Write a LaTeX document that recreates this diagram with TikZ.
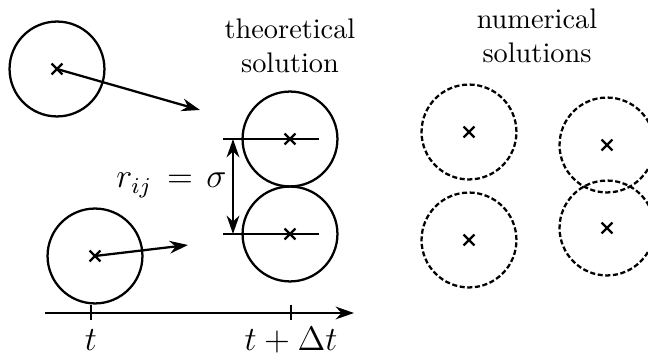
\documentclass[tikz,border=0pt]{standalone}
\usetikzlibrary{arrows.meta, shapes.misc}
\tikzset{
  ball/.style={draw, thick, circle, minimum size=33.5pt, inner sep=0pt},
  ghost/.style={ball, dash pattern=on 1.8pt off 0.9pt},
  xmark/.style={draw, thick, cross out, minimum size=3pt, inner sep=0pt},
  vel/.style={-{Stealth[length=6.5pt, width=4.5pt]}, thick},
  dist/.style={{Stealth[length=6.5pt, width=4.5pt]}-{Stealth[length=6.5pt, width=4.5pt]}, thick},
  caption/.style={align=center, anchor=north, inner sep=0pt},
  tlabel/.style={anchor=base, inner sep=0pt, font=\large},
}

\begin{document}
\begin{tikzpicture}[x=0.353pt, y=-0.353pt]
  \useasboundingbox (0,0) rectangle (648,359);

  % particles at time t
  \node (p1) [ball] at (57,69) {};
  \node (p2) [ball] at (95,256) {};
  \node (c1) [xmark] at (p1) {};
  \node (c2) [xmark] at (p2) {};
  \coordinate (v1) at (200,110);
  \coordinate (v2) at (188,245);
  \draw[vel] (p1.center) -- (v1);
  \draw[vel] (p2.center) -- (v2);

  % theoretical solution (contact)
  \node (theo) [caption] at (290,18) {theoretical\\solution};
  \node (q1) [ball] at (290,139) {};
  \node (q2) [ball] at (290,234) {};
  \node (d1) [xmark] at (q1) {};
  \node (d2) [xmark] at (q2) {};
  \coordinate (l1) at (223,139);
  \coordinate (r1) at (319,139);
  \coordinate (l2) at (223,234);
  \coordinate (r2) at (319,234);
  \coordinate (s1) at (233,139);
  \coordinate (s2) at (233,234);
  \draw[thick] (l1) -- (r1);
  \draw[thick] (l2) -- (r2);
  \draw[dist] (s1) -- (s2);
  \node (rlabel) [anchor=base east, inner sep=0pt, font=\large] at (227,188) {$r_{ij}\mkern3mu=\mkern2mu\sigma$};

  % numerical solutions
  \node (num) [caption] at (537,8) {numerical\\solutions};
  \node (g1) [ghost] at (469,132) {};
  \node (g2) [ghost] at (469,240) {};
  \node (g3) [ghost] at (607,145) {};
  \node (g4) [ghost] at (607,228) {};
  \node (e1) [xmark] at (g1) {};
  \node (e2) [xmark] at (g2) {};
  \node (e3) [xmark] at (g3) {};
  \node (e4) [xmark] at (g4) {};

  % time axis
  \coordinate (ax0) at (45,313);
  \coordinate (ax1) at (354,313);
  \draw[vel] (ax0) -- (ax1);
  \draw[thick] (91,305) -- (91,320);
  \draw[thick] (291,305) -- (291,320);
  \node (tnow)  [tlabel] at (91,351) {$t$};
  \node (tnext) [tlabel] at (291,351) {$t + \Delta t$};
\end{tikzpicture}
\end{document}
